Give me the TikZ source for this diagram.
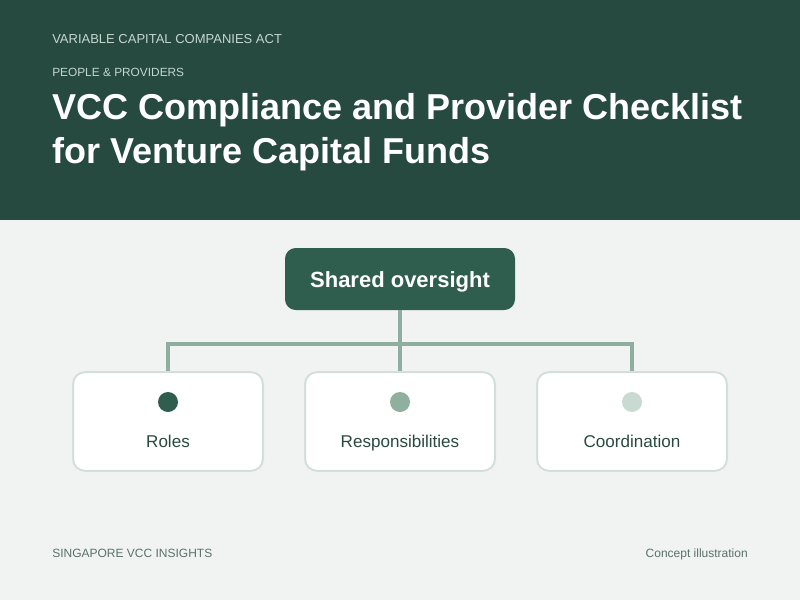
\documentclass[tikz,border=0pt]{standalone}
\usepackage{fontspec}
\setmainfont{Liberation Sans}
\definecolor{headbg}{HTML}{264A40}
\definecolor{pagebg}{HTML}{F1F3F2}
\definecolor{kicker}{HTML}{C5D6CD}
\definecolor{boxgreen}{HTML}{2F5E4F}
\definecolor{linkgreen}{HTML}{8FAE9F}
\definecolor{cardline}{HTML}{D3E0DA}
\definecolor{dotmid}{HTML}{8FB09F}
\definecolor{dotlight}{HTML}{C9DBD1}
\definecolor{labeltext}{HTML}{2A4A40}
\definecolor{foottext}{HTML}{5A7268}
\begin{document}
\begin{tikzpicture}[x=0.75pt, y=-0.75pt,
	card/.style={draw=cardline, line width=1.5pt, fill=white, rounded corners=9pt,
		minimum width=142.5pt, minimum height=74pt, inner sep=0pt},
	dot/.style={circle, inner sep=0pt, minimum size=15pt},
	cardlabel/.style={anchor=base, inner sep=0pt, text=labeltext, font=\fontsize{12.8}{15}\selectfont},
	foot/.style={text=foottext, font=\fontsize{9}{11}\selectfont, inner sep=0pt},
	link/.style={draw=linkgreen, line width=2.4pt}]

	\fill[pagebg] (0,0) rectangle (800,600);
	\fill[headbg] (0,0) rectangle (800,220);
	\useasboundingbox (0,0) rectangle (800,600);

	\node[anchor=base west, text=kicker, font=\fontsize{9.75}{12}\selectfont, inner sep=0pt] (act) at (52,43) {VARIABLE CAPITAL COMPANIES ACT};
	\node[anchor=base west, text=kicker, font=\fontsize{8.9}{11}\selectfont, inner sep=0pt] (kick) at (52,76) {PEOPLE \& PROVIDERS};
	\node[anchor=base west, text=white, font=\bfseries\fontsize{27}{33}\selectfont, inner sep=0pt] (title1) at (52,119) {VCC Compliance and Provider Checklist};
	\node[anchor=base west, text=white, font=\bfseries\fontsize{27}{33}\selectfont, inner sep=0pt] (title2) at (52,163) {for Venture Capital Funds};

	\node[fill=boxgreen, rounded corners=8pt, minimum width=172.5pt, minimum height=46.5pt,
		text height=12pt, text depth=0pt,
		text=white, font=\bfseries\fontsize{16.5}{19}\selectfont] (shared) at (400,279) {Shared oversight};

	\node[card] (roles) at (168,421.5) {};
	\node[card] (resp) at (400,421.5) {};
	\node[card] (coord) at (632,421.5) {};

	\coordinate (hub) at (400,344);
	\draw[link] (shared.south) -- (hub);
	\draw[link] (roles.north) |- (coord.north |- hub) -- (coord.north);
	\draw[link] (hub) -- (resp.north);

	\node[dot, fill=boxgreen] (d1) at (168,402) {};
	\node[dot, fill=dotmid] (d2) at (400,402) {};
	\node[dot, fill=dotlight] (d3) at (632,402) {};

	\node[cardlabel] (l1) at (168,447) {Roles};
	\node[cardlabel] (l2) at (400,447) {Responsibilities};
	\node[cardlabel] (l3) at (632,447) {Coordination};

	\node[foot, anchor=base west] (brand) at (52,557) {SINGAPORE VCC INSIGHTS};
	\node[foot, anchor=base east] (note) at (748,557) {Concept illustration};

\end{tikzpicture}
\end{document}
